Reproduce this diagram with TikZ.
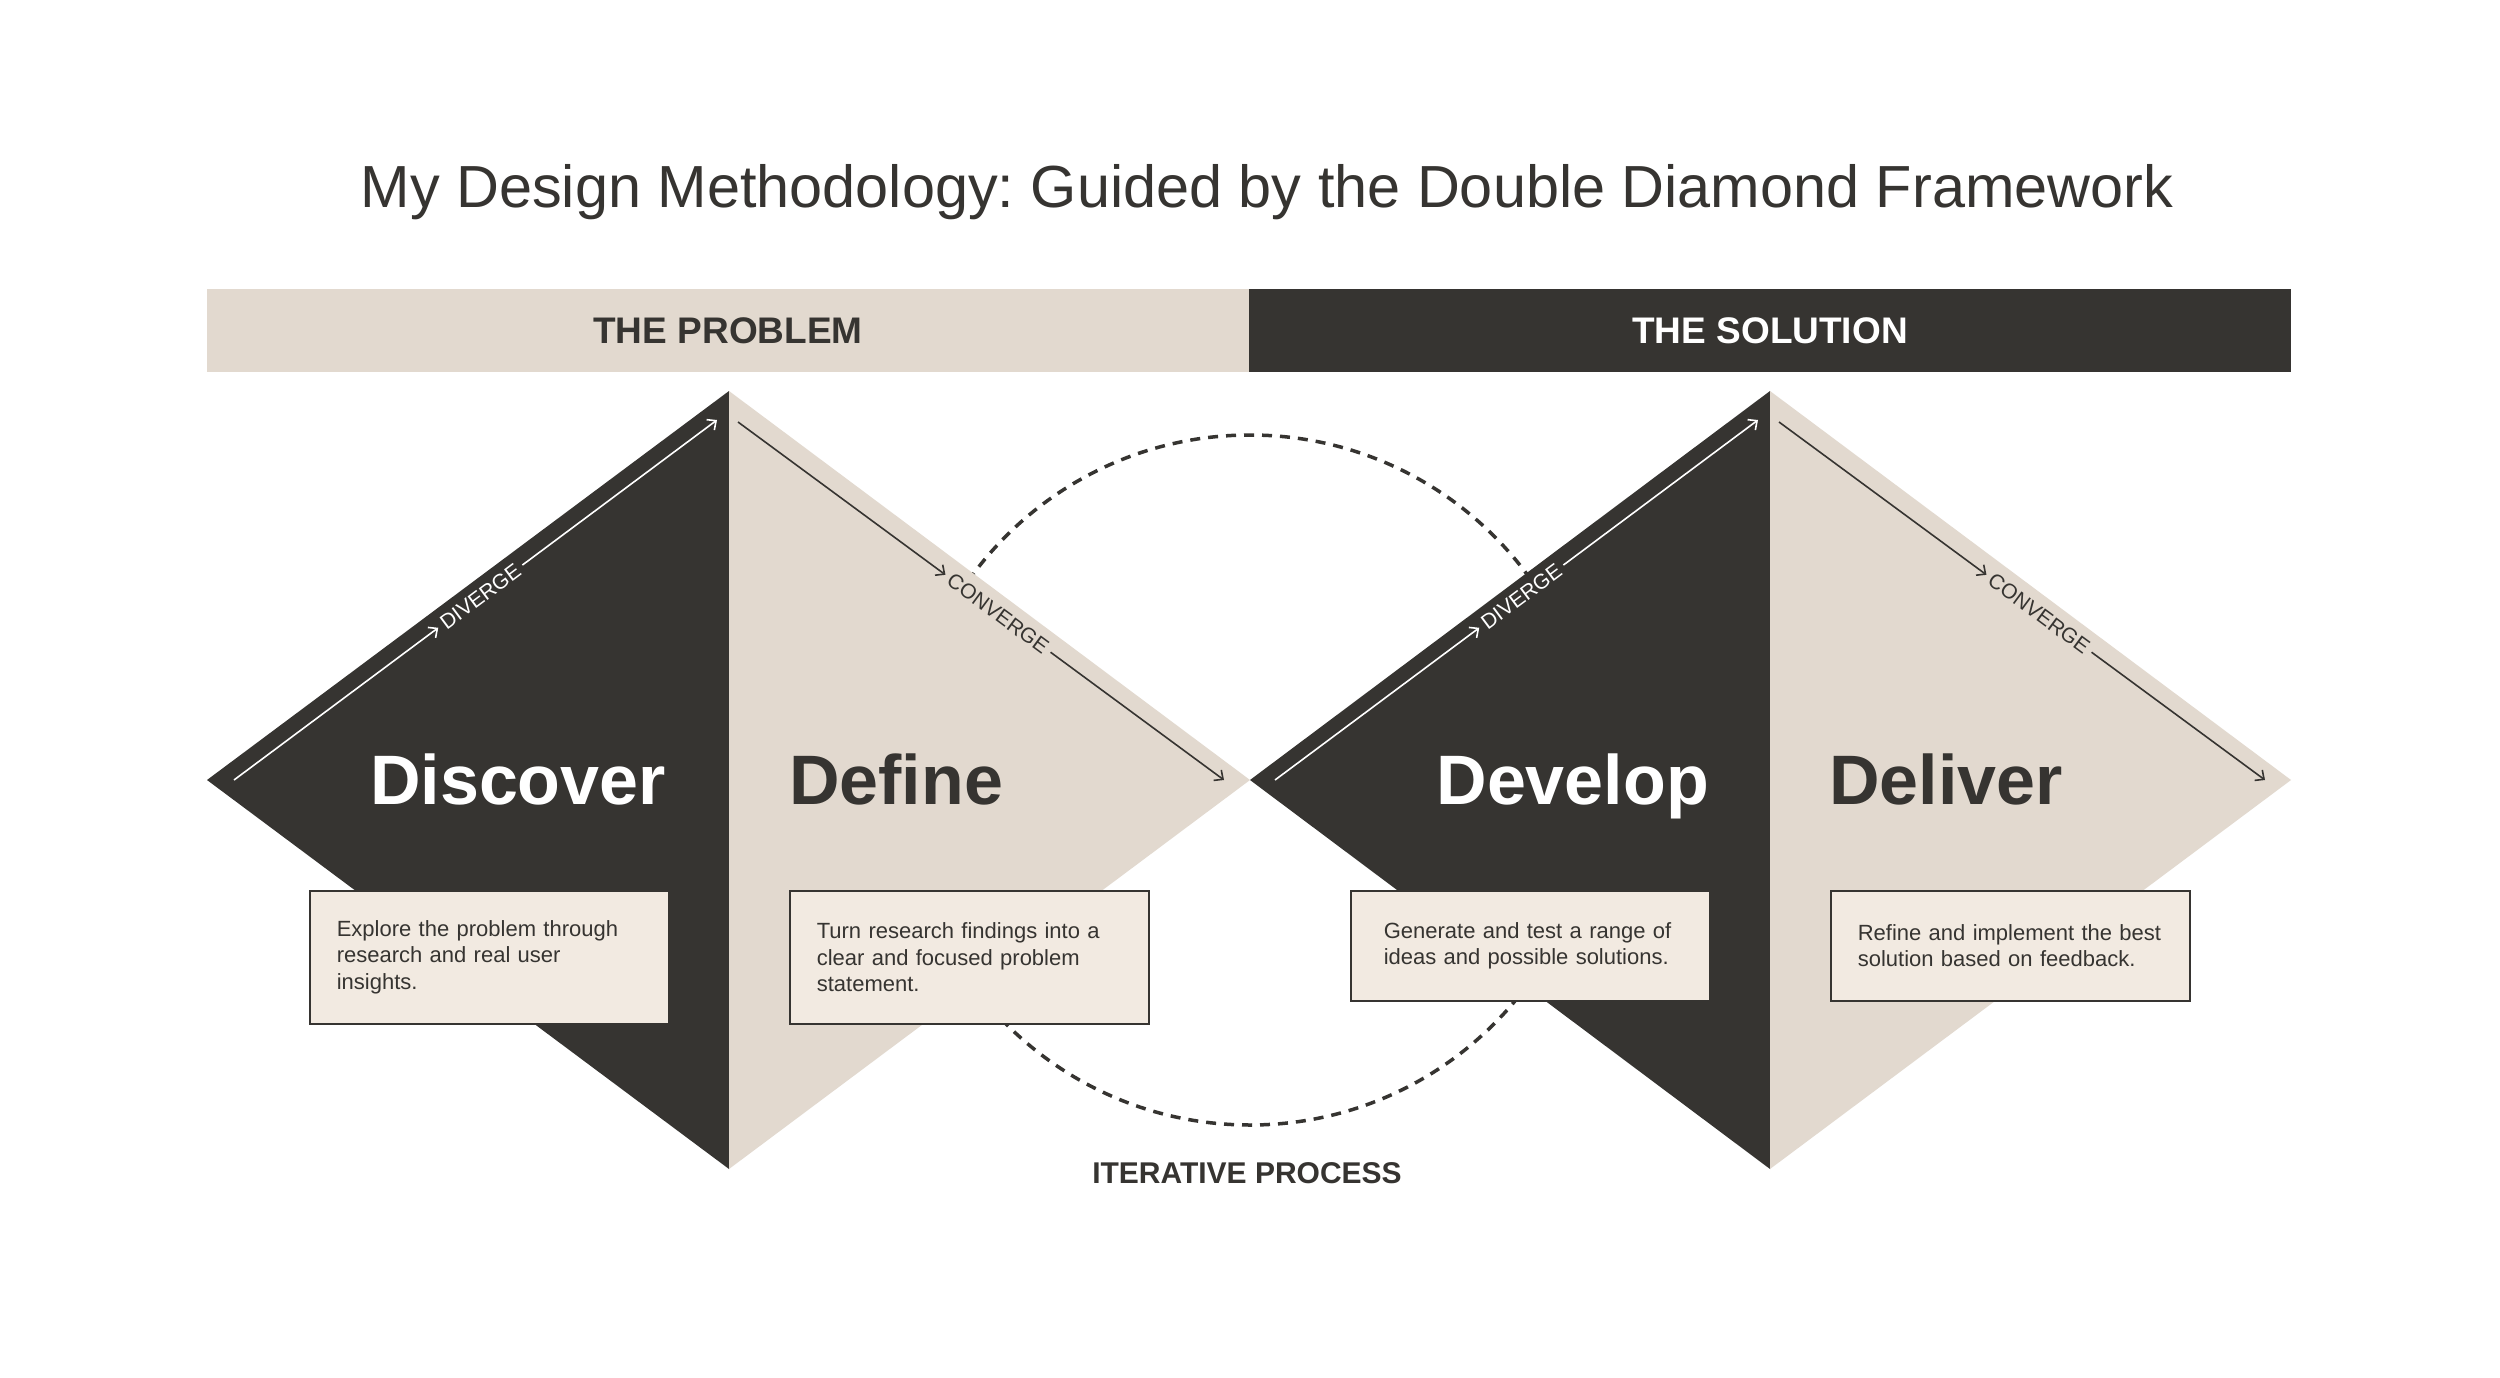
\documentclass[tikz,border=0pt]{standalone}
\usepackage{fontspec}
\setmainfont{Liberation Sans}
\usetikzlibrary{arrows.meta,calc}
\definecolor{ink}{HTML}{363431}
\definecolor{sand}{HTML}{E2D9CF}
\definecolor{cream}{HTML}{F2EAE1}
\begin{document}
\frenchspacing
\begin{tikzpicture}[x=1pt,y=-1pt,
  lbl/.style={font=\fontsize{21}{21}\selectfont, inner xsep=5pt, inner ysep=0pt, sloped},
  phase/.style={font=\fontsize{70}{70}\selectfont\bfseries, inner sep=0pt},
  desc/.style={draw=ink, line width=1.6pt, fill=cream, text=ink, text width=305pt, inner xsep=27pt, inner ysep=0pt, align=left, font=\fontsize{22}{26.3}\selectfont, anchor=north west, minimum width=359pt},
  flow/.style={line width=1.6pt, -{Straight Barb[length=7pt,width=13pt]}},
  barhalf/.style={minimum width=1042pt, minimum height=83pt, inner sep=0pt, font=\fontsize{37}{37}\selectfont\bfseries},
]
\fill[white] (0,0) rectangle (2500,1378);
\useasboundingbox (0,0) rectangle (2500,1378);

% title
\node[font=\fontsize{59.4}{70}\selectfont, anchor=base, text=ink, inner sep=0pt] (title) at (1267,207) {My Design Methodology: Guided by the Double Diamond Framework};

% bar
\node[barhalf, fill=sand, text=ink] (problem) at (728,330.5) {THE PROBLEM};
\node[barhalf, fill=ink, text=white] (solution) at (1770,330.5) {THE SOLUTION};

% iterative circle
\draw[ink, line width=3.5pt, dash pattern=on 10pt off 8pt] (1250,780) circle[radius=345];

% diamonds
\fill[ink] (207,780) -- (729,391) -- (729,1169) -- cycle;
\fill[sand] (729,391) -- (1250,780) -- (729,1169) -- cycle;
\fill[ink] (1250,780) -- (1770,391) -- (1770,1169) -- cycle;
\fill[sand] (1770,391) -- (2291,780) -- (1770,1169) -- cycle;

% diamond 1 arrows
\coordinate (dv1s) at (234,780); \coordinate (dv1e) at (717,420);
\path (dv1s) -- (dv1e) node[lbl, text=white, pos=0.51] (dv1l) {DIVERGE};
\draw[flow, white] (dv1s) -- (dv1l.west);
\draw[flow, white] (dv1l.east) -- (dv1e);
\coordinate (cv1s) at (738,422); \coordinate (cv1e) at (1224,780);
\path (cv1s) -- (cv1e) node[lbl, text=ink, pos=0.535] (cv1l) {CONVERGE};
\draw[flow, ink] (cv1s) -- (cv1l.west);
\draw[flow, ink] (cv1l.east) -- (cv1e);

% diamond 2 arrows
\coordinate (dv2s) at (1275,780); \coordinate (dv2e) at (1758,420);
\path (dv2s) -- (dv2e) node[lbl, text=white, pos=0.51] (dv2l) {DIVERGE};
\draw[flow, white] (dv2s) -- (dv2l.west);
\draw[flow, white] (dv2l.east) -- (dv2e);
\coordinate (cv2s) at (1779,422); \coordinate (cv2e) at (2265,780);
\path (cv2s) -- (cv2e) node[lbl, text=ink, pos=0.535] (cv2l) {CONVERGE};
\draw[flow, ink] (cv2s) -- (cv2l.west);
\draw[flow, ink] (cv2l.east) -- (cv2e);

% phase names
\node[phase, text=white, anchor=base east] (discover) at (666,804) {Discover};
\node[phase, text=ink, anchor=base west] (define) at (789,804) {Define};
\node[phase, text=white, anchor=base east] (develop) at (1709,804) {Develop};
\node[phase, text=ink, anchor=base west] (deliver) at (1829,804) {Deliver};

% description boxes
\node[desc, minimum height=133pt] (discoverbox) at (309,890) {Explore the problem through\\research and real user\\insights.};
\node[desc, minimum height=133pt] (definebox) at (789,890) {Turn research findings into a\\clear and focused problem\\statement.};
\node[desc, minimum height=110pt, inner xsep=33pt, text width=293pt] (developbox) at (1350,890) {Generate and test a range of\\ideas and possible solutions.};
\node[desc, minimum height=110pt] (deliverbox) at (1830,890) {Refine and implement the best\\solution based on feedback.};

% iterative label
\node[font=\fontsize{30}{30}\selectfont\bfseries, text=ink, inner sep=0pt] (iter) at (1247,1173) {ITERATIVE PROCESS};
\end{tikzpicture}
\end{document}
